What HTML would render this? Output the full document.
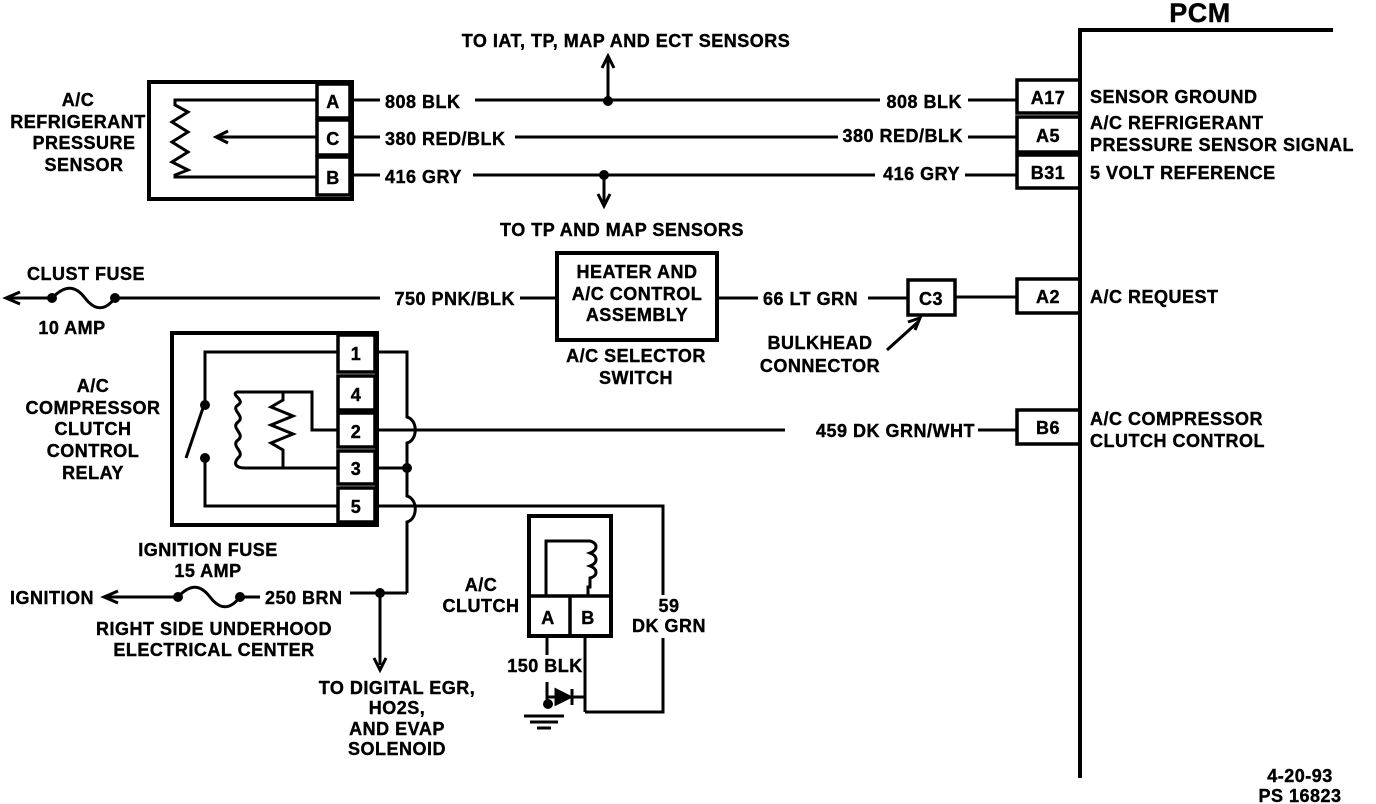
<!DOCTYPE html>
<html><head><meta charset="utf-8"><style>
html,body{margin:0;padding:0;background:#fff;}
svg{display:block;}
text{font-family:"Liberation Sans",sans-serif;font-weight:bold;font-size:18px;letter-spacing:0.5px;fill:#000;stroke:#000;stroke-width:0.4px;}
.m{text-anchor:middle}.e{text-anchor:end}
</style></head><body>
<svg width="1376" height="804" viewBox="0 0 1376 804" xmlns="http://www.w3.org/2000/svg">
<g stroke="#000" fill="none" stroke-width="3">
<path d="M1080 778 V30 H1333" stroke-width="4"/>
<rect x="1017" y="80" width="63" height="33" stroke-width="3.5"/>
<rect x="1017" y="117" width="63" height="35" stroke-width="3.5"/>
<rect x="1017" y="155" width="63" height="33" stroke-width="3.5"/>
<rect x="1017" y="279" width="63" height="34" stroke-width="3.5"/>
<rect x="1017" y="410" width="63" height="34" stroke-width="3.5"/>
<rect x="149" y="82" width="203" height="117" stroke-width="4"/>
<rect x="317" y="84" width="33" height="34" stroke-width="3.5"/>
<rect x="317" y="120" width="33" height="35" stroke-width="3.5"/>
<rect x="317" y="157" width="33" height="38" stroke-width="3.5"/>
<path d="M317 100 H175 V105 L188 112 L172 122 L188 132 L172 142 L188 152 L172 162 L188 170 L175 175 V177 H317"/>
<path d="M317 137 H218"/><path d="M228 131 L216 137 L228 143" />
<path d="M350 100 H380 M475 100 H880 M968 100 H1017"/>
<path d="M350 137 H380 M515 137 H838 M968 137 H1017"/>
<path d="M350 175 H380 M473 175 H875 M965 175 H1017"/>
<path d="M608 100 V60"/><path d="M602 68 L608 56 L614 68"/>
<path d="M604 175 V202"/><path d="M598 194 L604 206 L610 194"/>
<path d="M8 298 H52"/><path d="M20 292 L6 298 L20 304"/>
<path d="M52 298 C65 285 75 285 85 298 C95 311 105 311 115 298"/>
<path d="M115 298 H380 M520 298 H557"/>
<rect x="557" y="253" width="160" height="87" stroke-width="4"/>
<path d="M717 298 H758 M868 298 H908"/>
<rect x="908" y="280" width="47" height="35" stroke-width="3.5"/>
<path d="M955 297 H1017"/>
<path d="M887 350 L918 322"/><path d="M908 322 L920 318 L915 330"/>
<rect x="172" y="333" width="205" height="192" stroke-width="4"/>
<rect x="338" y="335" width="37" height="37" stroke-width="3.5"/>
<rect x="338" y="376" width="37" height="34" stroke-width="3.5"/>
<rect x="338" y="413" width="37" height="34" stroke-width="3.5"/>
<rect x="338" y="451" width="37" height="33" stroke-width="3.5"/>
<rect x="338" y="488" width="37" height="34" stroke-width="3.5"/>
<path d="M338 352 H205 V405"/>
<path d="M186 458 L204 405"/>
<path d="M205 460 V506 H338"/>
<path d="M338 430 H312 V392 H237 C230 395 246 400 238 405 C230 410 246 416 238 422 C230 428 246 434 238 440 C230 446 246 452 238 458 C233 464 236 468 245 468 H338"/>
<path d="M283 392 V400 L271 407 L293 416 L271 425 L293 434 L271 443 L283 450 V468"/>
<path d="M375 352 H407 V417 C418 420 418 440 407 443 V496 C418 499 418 519 407 522 V593"/>
<path d="M375 430 H785 M978 430 H1017"/>
<path d="M375 468 H407"/>
<path d="M375 506 H663 V595 M663 638 V712 H585"/>
<rect x="529" y="516" width="82" height="120" stroke-width="4"/>
<path d="M529 596 H611 M570 596 V636" stroke-width="3.5"/>
<path d="M546 596 V541 H590 C598 543 598 550 590 553 C598 556 598 563 590 566 C598 569 598 576 590 578 V587 H588 V596"/>
<path d="M547 636 V655 M547 682 V704 M585 636 V712"/>
<path d="M548 697 H585"/><path d="M556 690 L570 697 L556 704 Z" fill="#000"/><path d="M572 689 V705"/>
<path d="M524 716 H564 M530 722 H558 M537 728 H551"/>
<path d="M105 597 H178"/><path d="M118 591 L104 597 L118 603"/>
<path d="M178 597 C190 584 200 584 210 597 C220 610 230 610 240 597 H260 M350 593 H407"/>
<path d="M380 593 V665"/><path d="M374 658 L380 670 L386 658"/>
</g>
<g fill="#000">
<circle cx="608" cy="101" r="5"/><circle cx="604" cy="175" r="5"/>
<circle cx="52" cy="298" r="5"/><circle cx="115" cy="298" r="5"/>
<circle cx="178" cy="597" r="5"/><circle cx="240" cy="597" r="5"/>
<circle cx="380" cy="593" r="5"/><circle cx="407" cy="468" r="5"/>
<circle cx="205" cy="405" r="5"/><circle cx="205" cy="458" r="5"/>
<circle cx="548" cy="704" r="5"/>
</g>
<text x="1200" y="22" class="m" style="font-size:27px">PCM</text>
<text x="1048" y="104" class="m">A17</text><text x="1048" y="142" class="m">A5</text>
<text x="1048" y="179" class="m">B31</text><text x="1048" y="303" class="m">A2</text>
<text x="1048" y="434" class="m">B6</text>
<text x="1090" y="103">SENSOR GROUND</text>
<text x="1090" y="129">A/C REFRIGERANT</text>
<text x="1090" y="151">PRESSURE SENSOR SIGNAL</text>
<text x="1090" y="179">5 VOLT REFERENCE</text>
<text x="1090" y="303">A/C REQUEST</text>
<text x="1090" y="425">A/C COMPRESSOR</text>
<text x="1090" y="447">CLUTCH  CONTROL</text>
<text x="626" y="47" class="m">TO IAT, TP, MAP AND ECT SENSORS</text>
<text x="622" y="236" class="m">TO TP AND MAP SENSORS</text>
<text x="78" y="106" class="m">A/C</text><text x="78" y="128" class="m">REFRIGERANT</text>
<text x="84" y="149" class="m">PRESSURE</text><text x="84" y="171" class="m">SENSOR</text>
<text x="333" y="108" class="m">A</text><text x="333" y="145" class="m">C</text><text x="333" y="184" class="m">B</text>
<text x="385" y="108">808 BLK</text><text x="962" y="108" class="e">808 BLK</text>
<text x="385" y="145">380 RED/BLK</text><text x="963" y="142" class="e">380 RED/BLK</text>
<text x="385" y="183">416 GRY</text><text x="960" y="180" class="e">416 GRY</text>
<text x="86" y="280" class="m">CLUST FUSE</text><text x="72" y="334" class="m">10 AMP</text>
<text x="515" y="305" class="e">750 PNK/BLK</text>
<text x="637" y="278" class="m">HEATER AND</text><text x="637" y="300" class="m">A/C CONTROL</text>
<text x="637" y="321" class="m">ASSEMBLY</text>
<text x="636" y="362" class="m">A/C SELECTOR</text><text x="636" y="384" class="m">SWITCH</text>
<text x="763" y="305">66 LT GRN</text>
<text x="931" y="305" class="m">C3</text>
<text x="820" y="349" class="m">BULKHEAD</text><text x="820" y="372" class="m">CONNECTOR</text>
<text x="356" y="360" class="m">1</text><text x="356" y="401" class="m">4</text>
<text x="356" y="438" class="m">2</text><text x="356" y="475" class="m">3</text>
<text x="356" y="513" class="m">5</text>
<text x="93" y="392" class="m">A/C</text><text x="93" y="414" class="m">COMPRESSOR</text>
<text x="93" y="435" class="m">CLUTCH</text><text x="93" y="457" class="m">CONTROL</text>
<text x="93" y="479" class="m">RELAY</text>
<text x="975" y="437" class="e">459 DK GRN/WHT</text>
<text x="208" y="556" class="m">IGNITION FUSE</text><text x="208" y="577" class="m">15 AMP</text>
<text x="10" y="604">IGNITION</text>
<text x="265" y="604">250 BRN</text>
<text x="214" y="635" class="m">RIGHT SIDE UNDERHOOD</text>
<text x="214" y="656" class="m">ELECTRICAL CENTER</text>
<text x="397" y="694" class="m">TO DIGITAL EGR,</text><text x="397" y="714" class="m">HO2S,</text>
<text x="397" y="735" class="m">AND EVAP</text><text x="397" y="755" class="m">SOLENOID</text>
<text x="481" y="591" class="m">A/C</text><text x="481" y="612" class="m">CLUTCH</text>
<text x="548" y="624" class="m">A</text><text x="588" y="624" class="m">B</text>
<text x="545" y="672" class="m">150 BLK</text>
<text x="669" y="612" class="m">59</text><text x="669" y="632" class="m">DK GRN</text>
<text x="1300" y="782" class="m">4-20-93</text><text x="1300" y="802" class="m">PS 16823</text>
</svg>
</body></html>
